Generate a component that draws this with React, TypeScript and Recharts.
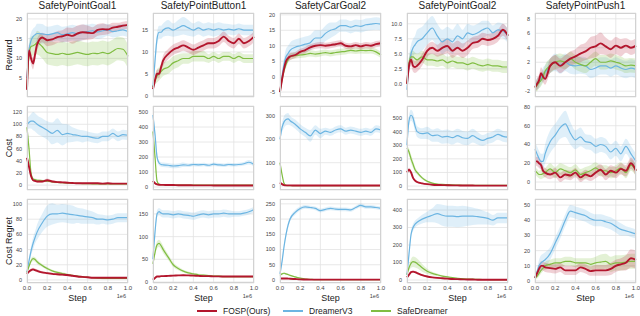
import { ComposedChart, Area, Line, XAxis, YAxis, CartesianGrid } from 'recharts';

// training steps (x 1e6)
const STEPS = [0, 0.02, 0.04, 0.06, 0.08, 0.1, 0.15, 0.2, 0.25, 0.3, 0.35, 0.4, 0.45, 0.5, 0.55, 0.6, 0.65, 0.7, 0.75, 0.8, 0.85, 0.9, 0.95, 1];
const X_TICKS = [0, 0.2, 0.4, 0.6, 0.8, 1];

const ENVS = ['SafetyPointGoal1', 'SafetyPointButton1', 'SafetyCarGoal2', 'SafetyPointGoal2', 'SafetyPointPush1'];
const METRICS = ['Reward', 'Cost', 'Cost Regret'];

// ---- Reward ----
const pg1RewFosp = [2, 12, 10, 8.7, 11, 13.5, 15.3, 14.6, 14.8, 15.4, 15.6, 16, 15.7, 16.3, 16.6, 16.5, 16.4, 17.2, 17.4, 17.3, 17.8, 18, 18.3, 18.5];
const pg1RewFospSd = [0.5, 1.5, 1.5, 1.5, 1.5, 1.5, 1.2, 1.5, 1.5, 1.5, 1.5, 1.8, 2, 2, 2, 1.8, 1.5, 1.5, 1.5, 1.2, 1.2, 1, 1, 1];
const pg1RewDv3 = [5, 12, 14.5, 15.5, 16, 16.3, 16.2, 16, 16.2, 16.5, 16, 16.2, 16.5, 16.2, 16.6, 16.8, 17, 16.7, 17, 17.2, 16.8, 17, 17.2, 16.8];
const pg1RewDv3Sd = [1, 2, 2, 2, 2, 2.5, 2.5, 2, 2, 2, 2, 2, 2, 2, 2, 1.8, 1.8, 1.8, 1.8, 1.5, 1.5, 1.5, 1.5, 1.5];
const pg1RewSafe = [2.5, 11, 13, 13.2, 13.5, 14, 13, 11.5, 11.2, 11, 11.3, 11, 11.2, 11.5, 11.2, 11, 11.3, 11.2, 11.5, 11.2, 11.8, 12.5, 12.3, 10.5];
const pg1RewSafeSd = [1, 2, 2.5, 2.5, 2.5, 3, 3, 3, 3, 3, 3, 3, 3, 3, 3, 3, 3, 3, 3, 3, 3, 3, 3, 3];

const pb1RewFosp = [1.5, 3.5, 5, 5, 6.5, 8, 9.5, 10.5, 11, 11.5, 11, 10.5, 11, 11.5, 12, 12, 12.5, 13.5, 12.5, 12, 13, 12, 12.5, 13.5];
const pb1RewFospSd = [0.5, 1, 1, 1, 1, 1.2, 1.2, 1.2, 1.2, 1.2, 1.2, 1.2, 1.2, 1.2, 1.2, 1.2, 1.2, 1.2, 1.2, 1.2, 1.2, 1.2, 1.2, 1.2];
const pb1RewDv3 = [2, 8, 13, 14.5, 14.5, 15, 15.5, 15, 15.5, 16, 15.5, 15, 15.5, 15, 15.3, 15, 15.3, 15, 15.2, 15, 15.3, 15, 15, 15];
const pb1RewDv3Sd = [0.5, 1.5, 1.5, 1.5, 1.5, 1.5, 1.8, 1.5, 1.8, 2, 1.8, 1.5, 1.5, 1.5, 1.5, 1.5, 1.5, 1.5, 1.2, 1.2, 1.2, 1.2, 1.2, 1.2];
const pb1RewSafe = [2, 3.5, 4.5, 5, 5.5, 6, 6.5, 7.5, 8, 8.5, 8.5, 9, 9, 9, 8.5, 9, 8.5, 9, 9, 8.5, 9, 8.5, 8.5, 8.5];
const pb1RewSafeSd = [0.5, 1, 1.5, 1.5, 1.5, 1.5, 1.5, 1.5, 1.5, 1.2, 1.2, 1.2, 1.2, 1.2, 1, 1, 1, 1, 1, 1, 1, 1, 1, 1];

const cg2RewFosp = [-5, -1, 2.5, 5, 6, 6.5, 7, 8, 8.6, 9.5, 10, 10.2, 10, 10.2, 10.5, 10.8, 10, 9.8, 10.2, 9.8, 10.2, 10, 10.5, 10.8];
const cg2RewFospSd = [0.5, 1.5, 1.5, 1.5, 1.2, 1.2, 1, 1, 1, 1, 1, 1, 1, 1, 1, 1, 1, 1, 1, 1, 1, 1, 1, 1];
const cg2RewDv3 = [-5, 0, 4, 6.5, 7.5, 8.5, 9.5, 10, 10.5, 11, 12.5, 12.5, 14, 15, 15.5, 16.5, 16.5, 16, 16.5, 16.3, 16.8, 17, 17.2, 17];
const cg2RewDv3Sd = [1, 2, 2, 2.5, 2.5, 2.5, 2.5, 2.5, 2.5, 2.5, 2.5, 2.5, 2.5, 2.5, 2, 2, 2, 2, 2, 2, 2, 2, 2, 2];
const cg2RewSafe = [-5, -1, 2, 4, 5.5, 6.5, 6.8, 7, 7.2, 7.5, 7.3, 7.5, 7.8, 7.5, 7.8, 8, 8.2, 8.5, 8.3, 8.5, 8.4, 8.5, 8, 7];
const cg2RewSafeSd = [0.5, 1.2, 1.2, 1.2, 1, 1, 1, 1, 1, 1, 1, 1, 1, 1, 1, 1, 1, 1, 1, 1, 1, 1, 1, 1];

const pg2RewFosp = [0, 3, 4, 3, 2.8, 3, 4, 5.5, 6, 5.5, 6, 6.3, 5.5, 6, 5.5, 6, 6.8, 7, 7.5, 7.3, 7.5, 8, 9, 8];
const pg2RewFospSd = [0.5, 1, 1, 1, 1, 1, 1, 1, 1, 1, 1.2, 1.2, 1.2, 1.2, 1.2, 1.2, 1, 1, 1, 1, 1, 1, 1, 1];
const pg2RewDv3 = [-1, 3, 5, 6, 6.5, 7, 7.5, 8.5, 9.3, 8, 7, 7.5, 7, 8, 7.5, 8.5, 8.2, 8.5, 9, 9.3, 8.5, 9, 8.8, 8];
const pg2RewDv3Sd = [1, 1.5, 1.5, 1.5, 1.5, 2, 2, 2, 2, 2, 2, 2, 2, 2, 1.5, 1.5, 1.5, 1.5, 1.5, 1.2, 1.2, 1.2, 1.2, 1.2];
const pg2RewSafe = [0, 3.5, 4.5, 4.5, 4.2, 4, 4.5, 4, 4, 3.8, 4, 3.5, 3.8, 3.5, 3.5, 3.2, 3.5, 3.2, 3, 3.2, 3, 3, 2.8, 2.8];
const pg2RewSafeSd = [0.5, 1, 1, 1, 1, 1, 1, 1, 1, 1, 1, 1, 1, 1, 1, 1, 1, 1, 1, 1, 1, 1, 1, 1];

const pp1RewFosp = [-1.5, -1, -0.5, 0.5, 0, -0.3, 1.5, 2, 1.5, 2, 2.5, 2.8, 3.2, 3.5, 4, 4.2, 4.6, 4.2, 3.8, 4.3, 4, 4.3, 4, 4.3];
const pp1RewFospSd = [0.5, 0.8, 0.8, 0.8, 0.8, 0.8, 1, 1, 1, 1, 1, 1, 1.2, 1.2, 1.5, 1.5, 1.5, 1.2, 1.2, 1.2, 1.2, 1, 1, 1];
const pp1RewDv3 = [-1.3, -1, -0.8, -0.3, 0.3, 0.6, 1.5, 2, 1.6, 2, 1.6, 1.5, 1.6, 1.5, 1, 1.2, 1.5, 1.5, 1.2, 1.5, 1.2, 1, 1.2, 1];
const pp1RewDv3Sd = [0.5, 0.8, 0.8, 0.8, 1, 1, 1, 1.2, 1.2, 1.2, 1.2, 1.2, 1.2, 1.2, 1.2, 1.2, 1.2, 1.2, 1.2, 1.2, 1.2, 1.2, 1.2, 1.2];
const pp1RewSafe = [-1.5, -1.2, -0.8, -0.5, 0, 0.8, 1.5, 2, 2.2, 2, 2.5, 2, 1.7, 1.5, 2, 2.5, 2, 2, 2.2, 2, 1.8, 1.5, 1.6, 1.5];
const pp1RewSafeSd = [0.5, 0.8, 0.8, 0.8, 0.8, 0.8, 1, 1, 1, 1, 1, 1, 1, 1, 1, 1, 1, 1, 1, 1, 1, 1, 1, 1];

// ---- Cost ----
const pg1CostFosp = [45, 30, 15, 8, 7, 6, 6, 8, 6, 5, 4.5, 4, 3.5, 3, 3, 3, 3, 3, 2.5, 3, 2.5, 2.5, 2.5, 2.5];
const pg1CostFospSd = [5, 4, 3, 2, 2, 2, 2, 3, 2, 1.5, 1.5, 1.5, 1, 1, 1, 1, 1, 1, 1, 1, 1, 1, 1, 1];
const pg1CostDv3 = [100, 103, 105, 105, 103, 100, 95, 90, 85, 90, 83, 85, 83, 82, 80, 80, 78, 77, 80, 80, 85, 80, 83, 82];
const pg1CostDv3Sd = [10, 10, 12, 15, 15, 15, 15, 15, 18, 20, 18, 15, 12, 10, 10, 8, 8, 8, 8, 8, 8, 8, 8, 8];
const pg1CostSafe = [95, 60, 20, 10, 9, 8, 7.5, 6.5, 5.5, 4.5, 4, 3.5, 3, 3, 2.5, 2.5, 2, 2, 2, 2, 2, 2, 2, 2];
const pg1CostSafeSd = [5, 5, 4, 3, 2, 2, 1.5, 1.5, 1.5, 1.5, 1, 1, 1, 1, 1, 1, 1, 1, 1, 1, 1, 1, 1, 1];

const pb1CostFosp = [40, 25, 18, 15, 14, 14, 13, 13, 12, 12, 12, 11, 11, 11, 11, 10, 10, 10, 10, 10, 10, 10, 10, 10];
const pb1CostFospSd = [8, 5, 3, 3, 3, 3, 2, 2, 2, 2, 2, 2, 2, 2, 2, 2, 2, 2, 2, 2, 2, 2, 2, 2];
const pb1CostDv3 = [480, 350, 200, 160, 150, 148, 145, 140, 142, 148, 145, 150, 148, 150, 145, 152, 148, 145, 150, 148, 150, 155, 165, 150];
const pb1CostDv3Sd = [20, 30, 25, 15, 15, 15, 15, 15, 15, 15, 12, 12, 12, 12, 12, 12, 12, 12, 12, 12, 12, 12, 15, 12];
const pb1CostSafe = [370, 200, 40, 18, 15, 15, 14, 14, 13, 13, 13, 13, 13, 12, 12, 12, 12, 12, 12, 12, 12, 12, 12, 12];
const pb1CostSafeSd = [15, 20, 10, 4, 3, 3, 2, 2, 2, 2, 2, 2, 2, 2, 2, 2, 2, 2, 2, 2, 2, 2, 2, 2];

const cg2CostFosp = [15, 8, 4, 3, 3, 3, 2, 2, 2, 2, 2, 2, 2, 2, 2, 2, 2, 2, 2, 2, 2, 2, 2, 2];
const cg2CostFospSd = [3, 2, 1, 1, 1, 1, 1, 1, 1, 1, 1, 1, 1, 1, 1, 1, 1, 1, 1, 1, 1, 1, 1, 1];
const cg2CostDv3 = [200, 250, 275, 285, 288, 280, 265, 245, 230, 215, 240, 225, 235, 230, 240, 245, 235, 240, 235, 230, 235, 230, 245, 240];
const cg2CostDv3Sd = [10, 20, 25, 25, 25, 20, 20, 20, 20, 25, 20, 20, 15, 15, 15, 15, 15, 15, 15, 15, 15, 15, 15, 15];
const cg2CostSafe = [100, 50, 12, 3, 2, 2, 2, 2, 2, 2, 2, 2, 2, 2, 2, 2, 2, 2, 2, 2, 2, 2, 2, 2];
const cg2CostSafeSd = [5, 5, 3, 1, 1, 1, 1, 1, 1, 1, 1, 1, 1, 1, 1, 1, 1, 1, 1, 1, 1, 1, 1, 1];

const pg2CostFosp = [100, 120, 100, 60, 40, 30, 20, 14, 10, 8, 7, 6, 5, 5, 4, 4, 4, 3, 3, 3, 3, 3, 3, 3];
const pg2CostFospSd = [20, 15, 15, 10, 8, 6, 4, 3, 2, 2, 2, 2, 1, 1, 1, 1, 1, 1, 1, 1, 1, 1, 1, 1];
const pg2CostDv3 = [300, 480, 520, 500, 440, 400, 385, 390, 370, 375, 360, 365, 355, 370, 355, 350, 370, 350, 335, 350, 360, 380, 365, 360];
const pg2CostDv3Sd = [30, 40, 40, 40, 40, 40, 40, 45, 45, 50, 50, 50, 50, 50, 50, 50, 50, 45, 40, 40, 40, 40, 40, 40];
const pg2CostSafe = [280, 250, 200, 160, 120, 100, 60, 35, 22, 15, 12, 10, 8, 7, 6, 6, 5, 5, 5, 5, 5, 5, 5, 5];
const pg2CostSafeSd = [20, 25, 30, 25, 20, 15, 10, 8, 5, 4, 3, 3, 2, 2, 2, 2, 2, 2, 2, 2, 2, 2, 2, 2];

const pp1CostFosp = [22, 22, 20, 18, 12, 10, 8, 10, 5, 8, 7, 10, 5, 8, 6, 10, 13, 8, 12, 10, 14, 12, 20, 12];
const pp1CostFospSd = [4, 5, 5, 5, 5, 5, 5, 5, 5, 5, 5, 5, 5, 5, 5, 6, 6, 6, 6, 6, 6, 6, 6, 6];
const pp1CostDv3 = [35, 30, 25, 22, 22, 30, 43, 50, 58, 62, 52, 45, 48, 43, 42, 38, 40, 38, 32, 36, 30, 38, 30, 22];
const pp1CostDv3Sd = [8, 8, 8, 8, 8, 10, 12, 12, 12, 14, 12, 10, 10, 8, 8, 8, 8, 8, 8, 8, 8, 8, 8, 8];
const pp1CostSafe = [12, 10, 8, 8, 9, 10, 14, 10, 14, 12, 10, 13, 8, 10, 12, 15, 12, 12, 10, 12, 15, 10, 18, 12];
const pp1CostSafeSd = [4, 4, 4, 5, 5, 5, 6, 6, 6, 6, 6, 6, 6, 6, 6, 6, 6, 6, 6, 6, 6, 6, 6, 6];

// ---- Cost Regret ----
const pg1RegFosp = [8, 11, 13, 14, 13, 12, 10, 9, 8, 7.5, 7, 6.5, 5.5, 4.5, 4, 3.5, 3, 3, 3, 3, 3, 3, 3, 3];
const pg1RegFospSd = [1, 1.5, 2, 2, 2, 2, 1.5, 1.5, 1.5, 1.5, 1.5, 1.5, 1, 1, 1, 1, 1, 1, 1, 1, 1, 1, 1, 1];
const pg1RegDv3 = [10, 25, 38, 48, 56, 63, 75, 84, 87, 87, 88, 87, 86, 85, 84, 83, 82, 80, 80, 79, 80, 82, 82, 82];
const pg1RegDv3Sd = [2, 5, 6, 8, 8, 10, 12, 14, 14, 12, 12, 12, 12, 10, 10, 9, 8, 7, 6, 6, 6, 6, 6, 6];
const pg1RegSafe = [10, 18, 25, 28, 27, 24, 19, 15, 12, 10, 8.5, 7, 6, 5, 4, 3.5, 3, 2.5, 2, 2, 2, 2, 2, 2];
const pg1RegSafeSd = [1, 2, 3, 3, 3, 3, 2, 2, 1.5, 1.5, 1.5, 1.5, 1, 1, 1, 1, 1, 1, 1, 1, 1, 1, 1, 1];

const pb1RegFosp = [5, 9, 12, 12, 13, 13, 13.5, 14, 14.5, 15, 14.5, 14, 13.5, 13, 13, 12.5, 12.5, 12, 12, 12, 12, 12, 12, 12];
const pb1RegFospSd = [1, 1, 1, 1, 1, 1, 1, 1, 1, 1, 1, 1, 1, 1, 1, 1, 1, 1, 1, 1, 1, 1, 1, 1];
const pb1RegDv3 = [50, 110, 150, 155, 152, 150, 150, 148, 150, 148, 147, 145, 148, 150, 148, 150, 150, 152, 150, 150, 150, 152, 155, 160];
const pb1RegDv3Sd = [5, 10, 8, 8, 8, 8, 8, 8, 8, 8, 8, 8, 8, 8, 8, 8, 8, 8, 8, 6, 6, 6, 6, 6];
const pb1RegSafe = [40, 65, 82, 85, 80, 72, 55, 38, 30, 24, 20, 18, 16, 15, 14, 13, 13, 12, 12, 12, 12, 12, 12, 12];
const pb1RegSafeSd = [3, 6, 8, 8, 8, 8, 6, 5, 4, 3, 3, 2, 2, 2, 2, 2, 2, 2, 2, 2, 2, 2, 2, 2];

const cg2RegFosp = [5, 5, 5, 5, 4.5, 4, 3, 2, 1.5, 1, 1, 1, 1, 1, 1, 1, 1, 1, 1, 1, 1, 1, 1, 1];
const cg2RegFospSd = [1, 1, 1, 1, 1, 1, 1, 1, 1, 1, 1, 1, 1, 1, 1, 1, 1, 1, 1, 1, 1, 1, 1, 1];
const cg2RegDv3 = [20, 60, 110, 150, 180, 200, 222, 235, 240, 238, 235, 228, 232, 235, 233, 232, 232, 230, 238, 245, 240, 240, 238, 235];
const cg2RegDv3Sd = [5, 8, 10, 10, 10, 8, 8, 6, 6, 6, 6, 6, 6, 6, 6, 6, 6, 6, 6, 6, 6, 6, 6, 6];
const cg2RegSafe = [15, 20, 22, 20, 18, 15, 10, 6, 3, 2, 1, 1, 1, 1, 1, 1, 1, 1, 1, 1, 1, 1, 1, 1];
const cg2RegSafeSd = [2, 3, 3, 3, 3, 2, 2, 1, 1, 1, 1, 1, 1, 1, 1, 1, 1, 1, 1, 1, 1, 1, 1, 1];

const pg2RegFosp = [15, 30, 45, 48, 45, 40, 28, 20, 15, 12, 10, 8, 6, 5, 4, 3, 3, 2, 2, 2, 2, 2, 2, 2];
const pg2RegFospSd = [3, 5, 6, 6, 6, 6, 5, 4, 3, 3, 2, 2, 2, 2, 1, 1, 1, 1, 1, 1, 1, 1, 1, 1];
const pg2RegDv3 = [30, 150, 260, 300, 320, 330, 348, 360, 370, 380, 370, 365, 365, 362, 365, 365, 365, 362, 358, 352, 342, 355, 355, 355];
const pg2RegDv3Sd = [10, 20, 20, 20, 20, 20, 25, 30, 40, 55, 60, 60, 60, 60, 60, 55, 50, 45, 40, 35, 30, 30, 30, 30];
const pg2RegSafe = [30, 70, 95, 105, 102, 95, 70, 50, 38, 30, 22, 18, 14, 10, 8, 6, 5, 4, 3, 3, 2, 2, 2, 2];
const pg2RegSafeSd = [5, 15, 25, 30, 30, 28, 22, 15, 10, 8, 6, 5, 4, 3, 2, 2, 2, 2, 1, 1, 1, 1, 1, 1];

const pp1RegFosp = [2, 5, 8, 10, 10, 9, 8.5, 8, 9, 7, 7, 7, 9, 8, 6.5, 7, 7, 7, 8, 10, 11, 12, 15, 14];
const pp1RegFospSd = [1, 2, 3, 3, 3, 3, 3, 3, 3, 3, 3, 3, 3, 3, 3, 3.5, 3.5, 3.5, 4, 4, 4, 5, 6, 6];
const pp1RegDv3 = [2, 6, 10, 12, 13, 14, 18, 25, 32, 40, 46, 45, 44, 43, 41, 40, 40, 39, 38, 36, 34, 33, 32, 31];
const pp1RegDv3Sd = [1, 2, 4, 5, 5, 5, 4, 4, 4, 4, 4, 4, 4, 4, 4, 4, 4, 4, 4, 4, 4, 3, 3, 3];
const pp1RegSafe = [2, 3, 5, 7, 8.5, 10, 11, 12, 12, 13, 13, 12, 12, 12, 11, 12, 12.5, 13, 11, 12, 12, 12.5, 13, 13];
const pp1RegSafeSd = [1, 1.5, 2, 2, 2, 2.5, 3, 3, 3, 3, 3, 3, 3, 3, 4, 4, 5, 5, 5, 5, 5, 5, 5, 5];

// y-axis ticks per panel
const rewTicks = [[5, 10, 15, 20], [0, 5, 10, 15], [-5, 0, 5, 10, 15, 20], [0, 2.5, 5, 7.5, 10], [-2, 0, 2, 4, 6, 8]];
const costTicks = [[0, 20, 40, 60, 80, 100, 120], [0, 100, 200, 300, 400, 500], [0, 100, 200, 300], [0, 100, 200, 300, 400, 500], [0, 20, 40, 60, 80]];
const regTicks = [[0, 20, 40, 60, 80, 100], [0, 50, 100, 150], [0, 50, 100, 150, 200, 250], [0, 100, 200, 300, 400], [0, 10, 20, 30, 40, 50]];

const RED = '#b3162d';
const BLUE = '#6cb5e2';
const GREEN = '#80bd42';

const ROW_TOPS = [13, 106, 199];
const COL_LEFTS = [27, 153, 280, 407, 535];
const PLOT_W = 101;
const PLOT_H = 84;
const Y_W = 26;
const X_H = 11;
const R_PAD = 8;

type Series = [number[], number[]];
type PanelDef = { row: number; col: number; domain: [number, number]; ticks: number[]; fosp: Series; dv3: Series; safe: Series };

const PANELS: PanelDef[] = [
  { row: 0, col: 0, domain: [0.2, 21.5], ticks: rewTicks[0], fosp: [pg1RewFosp, pg1RewFospSd], dv3: [pg1RewDv3, pg1RewDv3Sd], safe: [pg1RewSafe, pg1RewSafeSd] },
  { row: 0, col: 1, domain: [-0.3, 18.9], ticks: rewTicks[1], fosp: [pb1RewFosp, pb1RewFospSd], dv3: [pb1RewDv3, pb1RewDv3Sd], safe: [pb1RewSafe, pb1RewSafeSd] },
  { row: 0, col: 2, domain: [-6.6, 20.6], ticks: rewTicks[2], fosp: [cg2RewFosp, cg2RewFospSd], dv3: [cg2RewDv3, cg2RewDv3Sd], safe: [cg2RewSafe, cg2RewSafeSd] },
  { row: 0, col: 3, domain: [-2.2, 11.8], ticks: rewTicks[3], fosp: [pg2RewFosp, pg2RewFospSd], dv3: [pg2RewDv3, pg2RewDv3Sd], safe: [pg2RewSafe, pg2RewSafeSd] },
  { row: 0, col: 4, domain: [-2.8, 8.8], ticks: rewTicks[4], fosp: [pp1RewFosp, pp1RewFospSd], dv3: [pp1RewDv3, pp1RewDv3Sd], safe: [pp1RewSafe, pp1RewSafeSd] },
  { row: 1, col: 0, domain: [-8, 130], ticks: costTicks[0], fosp: [pg1CostFosp, pg1CostFospSd], dv3: [pg1CostDv3, pg1CostDv3Sd], safe: [pg1CostSafe, pg1CostSafeSd] },
  { row: 1, col: 1, domain: [-20, 540], ticks: costTicks[1], fosp: [pb1CostFosp, pb1CostFospSd], dv3: [pb1CostDv3, pb1CostDv3Sd], safe: [pb1CostSafe, pb1CostSafeSd] },
  { row: 1, col: 2, domain: [-17, 343], ticks: costTicks[2], fosp: [cg2CostFosp, cg2CostFospSd], dv3: [cg2CostDv3, cg2CostDv3Sd], safe: [cg2CostSafe, cg2CostSafeSd] },
  { row: 1, col: 3, domain: [-29, 588], ticks: costTicks[3], fosp: [pg2CostFosp, pg2CostFospSd], dv3: [pg2CostDv3, pg2CostDv3Sd], safe: [pg2CostSafe, pg2CostSafeSd] },
  { row: 1, col: 4, domain: [-8.5, 81], ticks: costTicks[4], fosp: [pp1CostFosp, pp1CostFospSd], dv3: [pp1CostDv3, pp1CostDv3Sd], safe: [pp1CostSafe, pp1CostSafeSd] },
  { row: 2, col: 0, domain: [-4, 106.6], ticks: regTicks[0], fosp: [pg1RegFosp, pg1RegFospSd], dv3: [pg1RegDv3, pg1RegDv3Sd], safe: [pg1RegSafe, pg1RegSafeSd] },
  { row: 2, col: 1, domain: [-2.2, 183], ticks: regTicks[1], fosp: [pb1RegFosp, pb1RegFospSd], dv3: [pb1RegDv3, pb1RegDv3Sd], safe: [pb1RegSafe, pb1RegSafeSd] },
  { row: 2, col: 2, domain: [-10, 266], ticks: regTicks[2], fosp: [cg2RegFosp, cg2RegFospSd], dv3: [cg2RegDv3, cg2RegDv3Sd], safe: [cg2RegSafe, cg2RegSafeSd] },
  { row: 2, col: 3, domain: [-17, 463], ticks: regTicks[3], fosp: [pg2RegFosp, pg2RegFospSd], dv3: [pg2RegDv3, pg2RegDv3Sd], safe: [pg2RegSafe, pg2RegSafeSd] },
  { row: 2, col: 4, domain: [-1.3, 54], ticks: regTicks[4], fosp: [pp1RegFosp, pp1RegFospSd], dv3: [pp1RegDv3, pp1RegDv3Sd], safe: [pp1RegSafe, pp1RegSafeSd] },
];

const LEGEND = [
  { name: 'FOSP(Ours)', color: RED, width: 2.2, left: 197 },
  { name: 'DreamerV3', color: BLUE, width: 1.5, left: 283 },
  { name: 'SafeDreamer', color: GREEN, width: 1.5, left: 371 },
];

const tickStyle = { fontSize: 5.5, fill: '#444' };

function Panel({ p }: { p: PanelDef }) {
  const showX = p.row === 2;
  const decimal = p.ticks.some((t) => !Number.isInteger(t));
  const data = STEPS.map((step, i) => ({
    step,
    fosp: p.fosp[0][i],
    fospBand: [p.fosp[0][i] - p.fosp[1][i], p.fosp[0][i] + p.fosp[1][i]],
    dv3: p.dv3[0][i],
    dv3Band: [p.dv3[0][i] - p.dv3[1][i], p.dv3[0][i] + p.dv3[1][i]],
    safe: p.safe[0][i],
    safeBand: [p.safe[0][i] - p.safe[1][i], p.safe[0][i] + p.safe[1][i]],
  }));
  const left = COL_LEFTS[p.col];
  const top = ROW_TOPS[p.row];

  return (
    <div style={{ position: 'absolute', left: left - Y_W, top: top - 1 }}>
      <ComposedChart
        width={Y_W + PLOT_W + R_PAD}
        height={PLOT_H + 2 + (showX ? X_H - 1 : 0)}
        data={data}
        margin={{ top: 1, right: R_PAD, bottom: showX ? 0 : 1, left: 0 }}
      >
        <CartesianGrid stroke="#e2e2e2" strokeWidth={0.8} />
        <XAxis
          dataKey="step"
          type="number"
          domain={[0, 1]}
          ticks={X_TICKS}
          interval={0}
          hide={!showX}
          height={X_H}
          axisLine={false}
          tickLine={false}
          tickSize={2}
          tickMargin={1}
          tick={{ fontSize: 6, fill: '#444' }}
          tickFormatter={(v: number) => v.toFixed(1)}
        />
        <YAxis
          type="number"
          domain={p.domain}
          ticks={p.ticks}
          interval={0}
          allowDataOverflow
          width={Y_W}
          axisLine={false}
          tickLine={false}
          tickSize={3}
          tickMargin={2}
          tick={tickStyle}
          tickFormatter={(v: number) => (decimal ? v.toFixed(1) : String(v))}
        />
        <Area type="monotone" dataKey="dv3Band" stroke="none" fill={BLUE} fillOpacity={0.22} isAnimationActive={false} />
        <Area type="monotone" dataKey="safeBand" stroke="none" fill={GREEN} fillOpacity={0.22} isAnimationActive={false} />
        <Area type="monotone" dataKey="fospBand" stroke="none" fill={RED} fillOpacity={0.2} isAnimationActive={false} />
        <Line type="monotone" dataKey="dv3" stroke={BLUE} strokeWidth={1.2} dot={false} isAnimationActive={false} />
        <Line type="monotone" dataKey="safe" stroke={GREEN} strokeWidth={1.2} dot={false} isAnimationActive={false} />
        <Line type="monotone" dataKey="fosp" stroke={RED} strokeWidth={1.9} dot={false} isAnimationActive={false} />
      </ComposedChart>
      {/* plot frame */}
      <div
        style={{
          position: 'absolute',
          left: Y_W,
          top: 1,
          width: PLOT_W,
          height: PLOT_H,
          border: '1px solid #d2d2d2',
          boxSizing: 'border-box',
          pointerEvents: 'none',
        }}
      />
    </div>
  );
}

export default function App() {
  return (
    <div
      style={{
        position: 'absolute',
        left: 0,
        top: 0,
        width: 640,
        height: 316,
        background: '#fff',
        fontFamily: '"Liberation Sans", Arial, sans-serif',
        color: '#222',
        overflow: 'hidden',
      }}
    >
      {PANELS.map((p) => (
        <Panel key={`${p.row}-${p.col}`} p={p} />
      ))}

      {/* column titles */}
      {ENVS.map((name, c) => (
        <div
          key={name}
          style={{ position: 'absolute', left: COL_LEFTS[c] - 10, width: PLOT_W + 20, top: 0, textAlign: 'center', fontSize: 10, lineHeight: '12px' }}
        >
          {name}
        </div>
      ))}

      {/* row labels */}
      {METRICS.map((m, r) => (
        <div
          key={m}
          style={{
            position: 'absolute',
            left: 9,
            top: ROW_TOPS[r] + PLOT_H / 2,
            transform: 'translate(-50%, -50%) rotate(-90deg)',
            whiteSpace: 'nowrap',
            fontSize: 9,
          }}
        >
          {m}
        </div>
      ))}

      {/* x labels for bottom row */}
      {COL_LEFTS.map((l) => (
        <div key={l}>
          <div style={{ position: 'absolute', left: l, width: PLOT_W, top: 293, textAlign: 'center', fontSize: 9, lineHeight: '11px' }}>Step</div>
          <div style={{ position: 'absolute', left: l + PLOT_W - 20, width: 18, top: 293, textAlign: 'right', fontSize: 5.5, lineHeight: '7px', color: '#444' }}>1e6</div>
        </div>
      ))}

      {/* legend */}
      {LEGEND.map((item) => (
        <div key={item.name} style={{ position: 'absolute', left: item.left, top: 305, display: 'flex', alignItems: 'center', height: 12 }}>
          <div style={{ width: 20, height: item.width, background: item.color }} />
          <span style={{ marginLeft: 6, fontSize: 8.5, whiteSpace: 'nowrap' }}>{item.name}</span>
        </div>
      ))}
    </div>
  );
}
